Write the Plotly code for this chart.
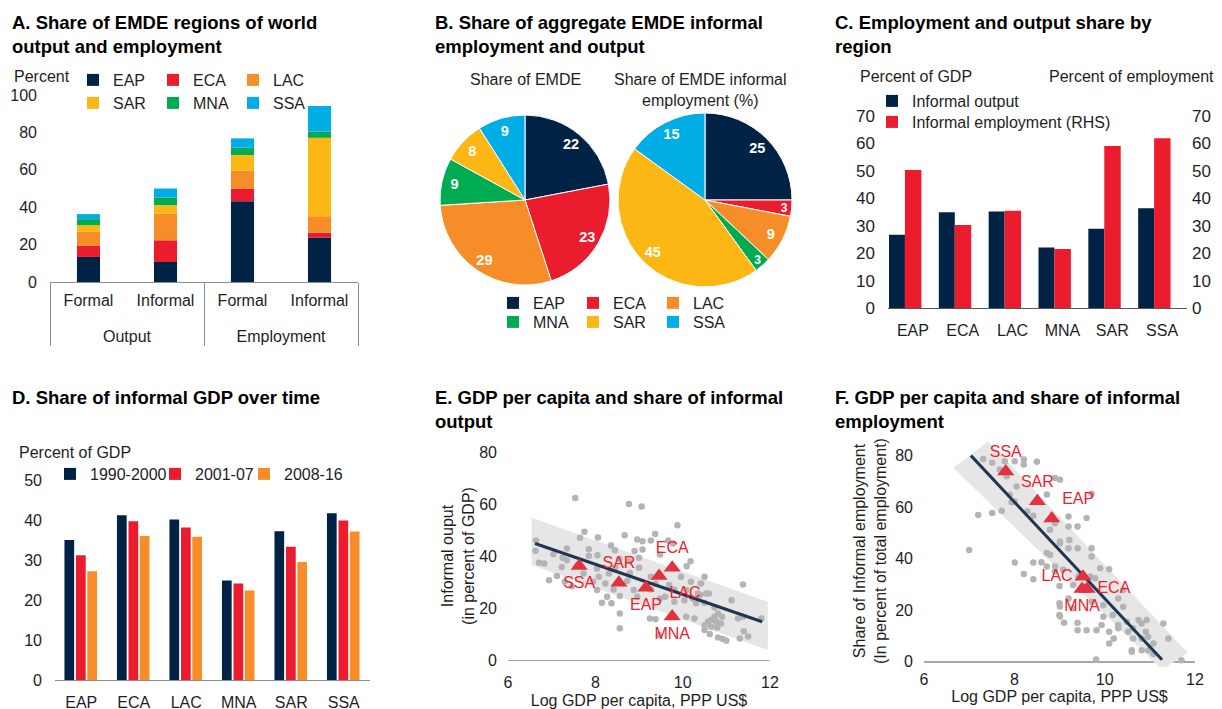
import plotly.graph_objects as go

W, H = 1222, 709
OFF = 8  # page offset of the plot div inside the browser window
FONT = "Liberation Sans, Arial, sans-serif"
INK = "#1e1e1e"

NAVY = "#002345"
RED = "#EB1C2D"
ORANGE = "#F78D28"
YELLOW = "#FDB714"
GREEN = "#00AB51"
CYAN = "#00ADE4"
DOT = "#b4b4b4"
TRI = "#e0323f"
FIT = "#1f3550"
BAND = "#e6e6e6"

# ---------------------------------------------------------------- data
regions = ["EAP", "ECA", "LAC", "MNA", "SAR", "SSA"]
region_colors = [NAVY, RED, ORANGE, GREEN, YELLOW, CYAN]

# A. share of world output / employment (stacked, bottom to top)
a_groups = ["<br>Output", "<br>Output", "<br>Employment", "<br>Employment"]
a_kinds = ["Formal", "Informal", "Formal", "Informal"]
a_eap = [13.4, 10.7, 43.2, 23.8]
a_eca = [5.9, 11.6, 6.8, 2.6]
a_lac = [7.5, 14.3, 9.5, 8.8]
a_sar = [3.6, 4.5, 8.4, 41.9]
a_mna = [3.2, 4.1, 3.9, 3.3]
a_ssa = [2.7, 4.8, 5.0, 13.7]

# B. pies
b_share_emde = [22, 23, 29, 9, 8, 9]
b_share_inf_emp = [25, 3, 9, 3, 45, 15]

# C. informal output / employment by region
c_inf_output = [26.7, 34.9, 35.2, 22.1, 28.9, 36.4]
c_inf_employment = [50.3, 30.3, 35.5, 21.5, 59.1, 61.9]

# D. informal GDP over time
d_1990_2000 = [35.0, 41.2, 40.1, 24.9, 37.2, 41.7]
d_2001_07 = [31.2, 39.7, 38.1, 24.1, 33.3, 39.9]
d_2008_16 = [27.2, 36.0, 35.8, 22.4, 29.5, 37.1]

# E. log GDP per capita vs informal output (countries)
e_points = [
    (7.54, 62.3), (8.77, 60.0), (9.06, 59.0), (9.88, 51.8), (7.75, 49.3), (8.67, 48.0),
    (9.37, 48.5), (6.64, 46.0), (7.65, 47.0), (8.06, 47.1), (8.96, 46.3), (9.08, 45.7),
    (9.27, 46.0), (9.67, 46.0), (9.78, 44.8), (6.63, 42.0), (7.35, 42.9), (8.36, 44.0),
    (7.85, 42.6), (7.04, 40.7), (8.45, 42.2), (8.90, 41.9), (9.08, 42.5), (9.48, 40.6),
    (10.18, 38.0), (6.71, 37.4), (6.83, 37.1), (7.25, 39.3), (7.35, 38.4), (7.85, 40.0),
    (8.05, 40.3), (8.55, 38.8), (8.77, 38.1), (9.00, 39.3), (10.09, 36.1), (7.23, 35.8),
    (7.60, 36.5), (8.04, 35.2), (8.46, 35.6), (9.00, 35.5), (7.12, 32.3), (7.73, 33.3),
    (8.08, 32.0), (8.31, 33.3), (8.79, 33.5), (9.27, 32.0), (9.96, 32.0), (10.50, 32.0),
    (6.94, 30.7), (7.30, 30.1), (7.95, 30.1), (8.23, 29.4), (8.73, 30.5), (9.38, 29.4),
    (9.69, 28.8), (10.19, 30.1), (10.42, 29.4), (11.38, 29.0), (7.46, 28.4), (8.04, 26.9),
    (8.42, 27.1), (8.88, 26.9), (9.27, 27.1), (9.81, 27.1), (10.08, 26.9), (10.35, 25.6),
    (10.54, 25.6), (8.27, 24.3), (8.56, 24.6), (8.96, 24.3), (9.48, 23.7), (9.60, 24.3),
    (10.04, 23.0), (10.23, 23.7), (10.40, 25.0), (10.60, 25.6), (11.12, 23.0), (8.15, 22.0),
    (8.37, 21.8), (9.81, 22.4), (10.31, 21.8), (10.50, 22.0), (10.73, 20.2), (8.56, 17.9),
    (9.25, 16.0), (9.38, 15.7), (10.08, 16.6), (10.27, 16.0), (10.73, 16.6), (10.81, 17.9),
    (10.90, 16.6), (10.58, 14.7), (10.65, 15.4), (10.77, 14.7), (10.88, 14.0), (11.27, 16.0),
    (11.38, 16.6), (11.80, 16.0), (8.56, 12.2), (10.50, 11.5), (10.79, 12.5), (10.62, 10.0),
    (10.81, 8.7), (10.92, 8.1), (11.00, 7.4), (11.31, 8.3), (11.40, 11.1), (11.50, 9.0),
    (10.50, 13.4), (10.65, 12.8), (9.46, 9.6),
]
e_fit_x = [6.62, 11.82]
e_fit_y = [44.8, 14.7]
e_band_x = [6.54, 11.95]
e_band_hi = [54.7, 22.4]
e_band_lo = [36.5, 3.8]
e_reg = ["SSA", "SAR", "EAP", "LAC", "ECA", "MNA"]
e_reg_x = [7.63, 8.54, 9.16, 9.46, 9.76, 9.76]
e_reg_y = [36.2, 29.7, 27.8, 32.3, 35.5, 16.7]

# F. log GDP per capita vs informal employment (countries)
f_points = [
    (7.00, 43.4), (7.20, 57.0), (7.51, 57.7), (7.72, 58.6), (7.31, 78.7), (7.51, 77.2),
    (7.68, 74.6), (7.79, 77.8), (8.01, 77.8), (8.21, 78.5), (8.50, 77.6), (8.21, 76.6),
    (7.83, 72.0), (8.05, 68.0), (7.90, 64.8), (8.01, 62.3), (7.94, 61.9), (8.29, 58.4),
    (8.42, 56.7), (8.90, 71.3), (9.01, 70.6), (8.72, 64.9), (9.20, 56.4), (9.20, 52.5),
    (9.40, 52.5), (9.60, 55.8), (9.71, 65.2), (8.90, 53.8), (8.79, 51.2), (9.22, 47.3),
    (9.01, 46.0), (9.20, 44.1), (9.40, 44.1), (9.71, 44.1), (9.71, 40.9), (8.72, 42.2),
    (8.79, 41.5), (8.42, 38.5), (8.01, 38.5), (8.21, 34.1), (8.42, 32.0), (8.72, 37.0),
    (8.90, 37.0), (8.90, 35.0), (9.08, 35.7), (9.00, 29.4), (9.30, 29.8), (9.42, 33.1),
    (9.68, 33.1), (9.79, 32.4), (9.90, 36.3), (10.10, 35.9), (10.41, 27.9), (10.30, 24.6),
    (9.00, 22.7), (9.00, 18.2), (9.10, 15.2), (9.20, 24.6), (9.30, 20.8), (9.40, 15.2),
    (9.40, 12.3), (9.60, 12.3), (9.71, 23.3), (9.82, 12.3), (9.97, 22.0), (9.93, 14.3),
    (10.10, 11.7), (10.18, 18.2), (10.20, 9.1), (10.10, 7.1), (10.30, 14.3), (10.30, 13.0),
    (10.41, 21.4), (10.49, 15.6), (10.63, 13.0), (10.75, 16.2), (10.82, 14.9), (10.93, 16.2),
    (10.52, 11.7), (10.63, 9.1), (10.82, 9.1), (10.82, 4.5), (10.60, 4.5), (10.60, 3.9),
    (10.96, 9.7), (11.08, 7.1), (11.30, 14.9), (11.41, 9.1), (11.70, 0.6), (9.81, 0.9),
    (10.91, 11.7), (10.97, 4.5), (11.08, 3.0), (9.97, 17.5), (9.53, 29.2), (8.60, 38.6),
    (9.01, 46.7), (9.01, 21.5), (9.01, 17.6),
]
f_fit_x = [7.04, 11.27]
f_fit_y = [80.0, 0.8]
f_band_x = [7.42, 11.84, 11.27, 6.65]
f_band_y = [85.6, 3.5, -3.1, 75.2]
f_reg = ["SSA", "SAR", "EAP", "LAC", "ECA", "MNA"]
f_reg_x = [7.81, 8.51, 8.83, 9.52, 9.61, 9.50]
f_reg_y = [73.8, 62.3, 55.6, 33.0, 28.3, 28.3]


def fx(px):
    return (px - OFF) / W


def fy(px):
    return 1 - (px - OFF) / H


def tfont(size=16, color=INK, **kw):
    return dict(family=FONT, size=size, color=color, **kw)


fig = go.Figure()

# ---------------------------------------------------------------- A
a_series = [("EAP", a_eap, NAVY), ("ECA", a_eca, RED), ("LAC", a_lac, ORANGE),
            ("SAR", a_sar, YELLOW), ("MNA", a_mna, GREEN), ("SSA", a_ssa, CYAN)]
base = [0.0] * len(a_kinds)
for i, (name, vals, col) in enumerate(a_series):
    fig.add_trace(go.Bar(
        x=[a_groups, a_kinds], y=vals, base=list(base), name=name,
        marker=dict(color=col, line=dict(width=0)), width=0.3,
        xaxis="x", yaxis="y", legend="legend" if i < 3 else "legend2",
    ))
    base = [b + v for b, v in zip(base, vals)]

# ---------------------------------------------------------------- B
for vals, dom in [(b_share_emde, (440, 610, 115, 285)), (b_share_inf_emp, (618, 792, 113, 287))]:
    domain = dict(x=[fx(dom[0]), fx(dom[1])], y=[fy(dom[3]), fy(dom[2])])
    fig.add_trace(go.Pie(
        labels=regions, values=vals, sort=False, direction="clockwise", rotation=0,
        marker=dict(colors=region_colors, line=dict(color="white", width=1)),
        textinfo="none", domain=domain, showlegend=False,
    ))
    # transparent ring on top carries the value labels near the rim
    fig.add_trace(go.Pie(
        labels=regions, values=vals, sort=False, direction="clockwise", rotation=0, hole=0.7,
        marker=dict(colors=["rgba(0,0,0,0)"] * 6, line=dict(width=0)),
        textinfo="value", textposition="inside", insidetextorientation="horizontal",
        textfont=tfont(14.5, "white", weight="bold"), domain=domain, showlegend=False,
        hoverinfo="skip",
    ))
for i, (name, col) in enumerate(zip(regions, region_colors)):
    fig.add_trace(go.Bar(
        x=[None], y=[None], name=name, marker=dict(color=col),
        xaxis="x4", yaxis="y5", legend="legend3" if i < 3 else "legend4",
    ))

# ---------------------------------------------------------------- C
fig.add_trace(go.Bar(x=regions, y=c_inf_output, name="Informal output",
                     marker=dict(color=NAVY, line=dict(width=0)), offset=-0.48, width=0.32,
                     xaxis="x2", yaxis="y2", legend="legend5"))
fig.add_trace(go.Bar(x=regions, y=c_inf_employment, name="Informal employment (RHS)",
                     marker=dict(color=RED, line=dict(width=0)), offset=-0.16, width=0.33,
                     xaxis="x2", yaxis="y3", legend="legend6"))

# ---------------------------------------------------------------- D
d_widths = [60, 44, 62]
for vals, name, col, off, lw in zip([d_1990_2000, d_2001_07, d_2008_16],
                                    ["1990-2000", "2001-07", "2008-16"],
                                    [NAVY, RED, ORANGE], [-0.32, -0.1, 0.115], d_widths):
    fig.add_trace(go.Bar(x=regions, y=vals, name=name, marker=dict(color=col, line=dict(width=0)),
                         offset=off, width=0.185, xaxis="x3", yaxis="y4",
                         legend="legend7", legendwidth=lw))


# ---------------------------------------------------------------- E / F scatter
def scatter_panel(xa, ya, band_x, band_y, points, fit_x, fit_y, reg, reg_x, reg_y, positions):
    fig.add_trace(go.Scatter(x=band_x, y=band_y, fill="toself", fillcolor=BAND, mode="lines",
                             line=dict(width=0), xaxis=xa, yaxis=ya, showlegend=False, hoverinfo="skip"))
    fig.add_trace(go.Scatter(x=[p[0] for p in points], y=[p[1] for p in points], mode="markers",
                             marker=dict(color=DOT, size=6.5), xaxis=xa, yaxis=ya, showlegend=False))
    fig.add_trace(go.Scatter(x=fit_x, y=fit_y, mode="lines", line=dict(color=FIT, width=3),
                             xaxis=xa, yaxis=ya, showlegend=False))
    fig.add_trace(go.Scatter(x=reg_x, y=reg_y, mode="markers+text", text=reg, textposition=positions,
                             textfont=tfont(16, "#f0202e"),
                             marker=dict(symbol="triangle-up", size=15, color=TRI),
                             xaxis=xa, yaxis=ya, showlegend=False))


scatter_panel("x4", "y5", e_band_x + e_band_x[::-1], e_band_hi + e_band_lo[::-1], e_points,
              e_fit_x, e_fit_y, e_reg, e_reg_x, e_reg_y,
              ["bottom center", "top center", "bottom center", "bottom right", "top center", "bottom center"])
scatter_panel("x5", "y6", f_band_x, f_band_y, f_points, f_fit_x, f_fit_y, f_reg, f_reg_x, f_reg_y,
              ["top center", "top center", "top right", "middle left", "middle right", "bottom center"])

# ---------------------------------------------------------------- layout
AX = dict(showgrid=False, zeroline=False, ticks="", tickfont=tfont(16), fixedrange=True)


def legend_box(x, y, entrywidth=35):
    return dict(x=fx(x), y=fy(y), xanchor="left", yanchor="middle", orientation="h",
                entrywidth=entrywidth, entrywidthmode="pixels", itemwidth=30,
                font=tfont(16), bgcolor="rgba(0,0,0,0)", traceorder="normal")


fig.update_layout(
    width=W, height=H, template="none", barmode="overlay",
    margin=dict(l=0, r=0, t=0, b=0),
    paper_bgcolor="white", plot_bgcolor="rgba(0,0,0,0)",
    font=tfont(16),
    xaxis=dict(AX, type="multicategory", domain=[fx(50), fx(358)], anchor="y",
               range=[-0.5, 3.5], showline=True, linecolor="#8c8c8c",
               showdividers=True, dividercolor="#8c8c8c", dividerwidth=1, ticklabelstandoff=4),
    yaxis=dict(AX, domain=[fy(282), fy(95)], anchor="x", range=[0, 100],
               tickvals=[0, 20, 40, 60, 80, 100], ticklabelstandoff=12),
    xaxis2=dict(AX, domain=[fx(888), fx(1187)], anchor="y2", range=[-0.5, 5.5],
                showline=True, linecolor="#595959", ticklabelstandoff=8),
    yaxis2=dict(AX, domain=[fy(308), fy(116)], anchor="x2", range=[0, 70], dtick=10,
                tickfont=tfont(17), ticklabelstandoff=12),
    yaxis3=dict(AX, domain=[fy(308), fy(116)], anchor="x2", overlaying="y2", side="right",
                range=[0, 70], dtick=10, tickfont=tfont(17), ticklabelstandoff=4),
    xaxis3=dict(AX, domain=[fx(55), fx(370)], anchor="y4", range=[-0.5, 5.5],
                showline=True, linecolor="#8c8c8c", ticklabelstandoff=8),
    yaxis4=dict(AX, domain=[fy(680), fy(480)], anchor="x3", range=[0, 50], dtick=10,
                ticklabelstandoff=12),
    xaxis4=dict(AX, domain=[fx(508), fx(770)], anchor="y5", range=[6, 12], tickvals=[6, 8, 10, 12],
                showline=True, linecolor="#a6a6a6", ticklabelstandoff=8,
                title=dict(text="Log GDP per capita, PPP US$", font=tfont(16), standoff=4)),
    yaxis5=dict(AX, domain=[fy(660), fy(452)], anchor="x4", range=[0, 80], dtick=20,
                ticklabelstandoff=10,
                title=dict(text="Informal ouput<br>(in percent of GDP)", font=tfont(16), standoff=0)),
    xaxis5=dict(AX, domain=[fx(924), fx(1195)], anchor="y6", range=[6, 12], tickvals=[6, 8, 10, 12],
                ticklabelstandoff=1,
                title=dict(text="Log GDP per capita, PPP US$", font=tfont(16), standoff=1)),
    yaxis6=dict(AX, domain=[fy(667), fy(435)], anchor="x5", range=[-2, 88],
                tickvals=[0, 20, 40, 60, 80], zeroline=True, zerolinecolor="#a6a6a6",
                zerolinewidth=1.5, ticklabelstandoff=10,
                title=dict(text="Share of Informal employment<br>(In percent of total employment)",
                           font=tfont(16), standoff=4)),
    legend=legend_box(73, 80),
    legend2=legend_box(73, 103),
    legend3=legend_box(493, 303),
    legend4=legend_box(493, 322),
    legend5=legend_box(872, 101, 0),
    legend6=legend_box(872, 122, 0),
    legend7=legend_box(50, 474, 0),
    showlegend=True,
)

# ---------------------------------------------------------------- text
panel_titles = [
    (10, "A. Share of EMDE regions of world<br>output and employment", 10),
    (433, "B. Share of aggregate EMDE informal<br>employment and output", 10),
    (833, "C. Employment and output share by<br>region", 10),
    (10, "D. Share of informal GDP over time", 385),
    (433, "E. GDP per capita and share of informal<br>output", 385),
    (833, "F. GDP per capita and share of informal<br>employment", 385),
]
for x, text, y in panel_titles:
    fig.add_annotation(x=fx(x), y=fy(y), xref="paper", yref="paper", xanchor="left", yanchor="top",
                       text=f"<b>{text}</b>", align="left", showarrow=False, font=tfont(18.5, "#000000"))

unit_labels = [
    (12, 77, "Percent", "left"),
    (858, 77, "Percent of GDP", "left"),
    (1216, 77, "Percent of employment", "right"),
    (17, 452, "Percent of GDP", "left"),
]
for x, y, text, anchor in unit_labels:
    fig.add_annotation(x=fx(x), y=fy(y), xref="paper", yref="paper", xanchor=anchor, yanchor="middle",
                       text=text, showarrow=False, font=tfont(16))

pie_titles = [(525, "Share of EMDE"), (700, "Share of EMDE informal<br>employment (%)")]
for x, text in pie_titles:
    fig.add_annotation(x=fx(x), y=fy(69), xref="paper", yref="paper", xanchor="center", yanchor="top",
                       text=text, showarrow=False, font=tfont(16))

fig.write_html("out.html")
